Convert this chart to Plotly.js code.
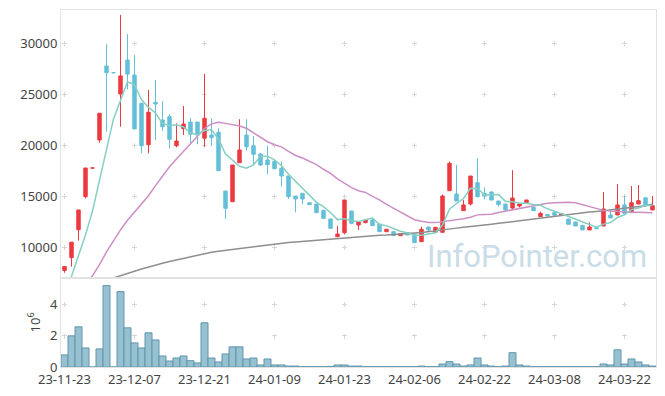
<!DOCTYPE html>
<html><head><meta charset="utf-8">
<script src="https://cdn.plot.ly/plotly-3.0.1.min.js"></script>
<style>html,body{margin:0;padding:0;background:#fff}#chart{width:665px;height:396px}</style>
</head><body><div id="chart"></div>
<script>
const dates = ['23-11-23','23-11-24','23-11-27','23-11-28','23-11-29','23-11-30','23-12-01','23-12-04','23-12-05','23-12-06',
'23-12-07','23-12-08','23-12-11','23-12-12','23-12-13','23-12-14','23-12-15','23-12-18','23-12-19','23-12-20',
'23-12-21','23-12-22','23-12-26','23-12-27','23-12-28','24-01-02','24-01-03','24-01-04','24-01-05','24-01-08',
'24-01-09','24-01-10','24-01-11','24-01-12','24-01-15','24-01-16','24-01-17','24-01-18','24-01-19','24-01-22',
'24-01-23','24-01-24','24-01-25','24-01-26','24-01-29','24-01-30','24-01-31','24-02-01','24-02-02','24-02-05',
'24-02-06','24-02-07','24-02-08','24-02-13','24-02-14','24-02-15','24-02-16','24-02-19','24-02-20','24-02-21',
'24-02-22','24-02-23','24-02-26','24-02-27','24-02-28','24-02-29','24-03-04','24-03-05','24-03-06','24-03-07',
'24-03-08','24-03-11','24-03-12','24-03-13','24-03-14','24-03-15','24-03-18','24-03-19','24-03-20','24-03-21',
'24-03-22','24-03-25','24-03-26','24-03-27','24-03-28'];

const openP = [7720,8990,11730,14960,17775,20520,27775,27120,25030,28360,
26890,24120,20060,24215,22480,22810,19960,21630,22285,22285,
20690,21010,21275,15520,14470,18290,21010,19960,19150,18560,
18430,17745,16990,15030,15290,14370,14245,13600,12775,11040,
11430,13560,12185,12420,12680,12285,11530,11530,11140,11430,
11270,10550,11990,11470,11470,15550,15225,13590,14245,16330,
15290,15420,14540,14245,13850,14050,14370,13920,13000,13230,
13400,13140,12775,12480,12150,11700,11925,12090,13170,13170,
14150,13400,14245,14860,13660];

const highP = [8150,10500,13660,17775,17775,23140,29900,27120,32775,30910,
28850,24120,25420,26400,24340,23040,22160,23850,22650,22285,
26990,22650,21670,15520,18070,22560,22560,20910,19250,19960,
18560,18400,16990,15030,15290,14400,14245,13700,12775,12085,
14640,13560,12515,12680,12780,12285,11770,11530,11340,11430,
11370,12020,11990,11960,15190,18400,18070,14640,16990,18720,
15880,15500,14540,14245,17560,14340,14640,13920,13490,13230,
13400,13300,12775,12480,12150,12450,11925,15420,13660,16200,
15060,16010,16110,14860,15030];

const lowP = [7500,8100,10650,14800,17775,20250,21330,27120,21820,25490,
21600,19215,19215,20520,21400,19710,19800,21010,20200,20100,
19860,19930,17510,12775,14470,18290,19470,18170,18000,17150,
17650,15940,14735,13430,14245,14180,13350,12840,11860,11040,
11270,12250,11700,12350,12120,11530,11530,11140,11140,11210,
10450,10550,11470,11470,11470,15550,14540,13590,14100,14900,
14700,14600,14000,13550,13730,13900,14370,13590,13000,13070,
13140,13140,12250,12090,11700,11700,11830,12090,12870,13170,
13330,13400,14245,14000,13660];

const closeP = [8110,10500,13660,17775,17775,23140,27120,27120,26800,26990,
21600,19960,23235,24050,21820,20590,20420,22090,21080,21010,
22650,20745,17510,13820,18070,19540,19860,19120,18070,18100,
17710,16990,14960,14735,14735,14180,13400,12840,11860,11300,
14640,12350,12515,12680,12120,11530,11770,11140,11340,11210,
10450,11770,11700,11960,15030,18230,14540,14150,16990,14960,
15060,14640,14180,13660,14830,14245,14640,13590,13330,13070,
13140,13300,12250,12090,11700,11990,11830,13760,12870,14150,
13330,14370,14570,14150,14080];

const ma5 = [5100,7080,9050,11230,13564,16570,19894,22586,24391,26234,
25926,24494,23717,23167,22133,21931,22023,21794,21200,21038,
21450,21515,20599,19147,18559,17937,17760,18082,18932,18938,
18572,17998,17166,16499,15826,15120,14402,13978,13403,12716,
12808,12598,12533,12697,12861,12239,12123,11848,11580,11398,
11182,11182,11294,11418,12182,13738,14292,14782,15788,15774,
15140,15160,15166,14500,14474,14311,14311,14193,14127,13775,
13554,13286,13018,12770,12496,12266,11972,12274,12430,12920,
13188,13696,13858,14114,14100];

const ma20 = [4900,5400,5900,6450,7200,8300,9550,10650,11700,12650,
13450,14200,15050,16050,17000,17900,18650,19400,20200,20950,
21650,22100,22250,22150,22050,21900,21670,21250,20800,20350,
20050,19850,19400,19000,18750,18400,18100,17650,17250,16700,
16250,15850,15550,15380,15000,14650,14200,13820,13400,13000,
12700,12550,12440,12420,12510,12620,12745,12800,12950,13180,
13210,13240,13420,13550,13680,13800,13950,14100,14230,14330,
14370,14400,14410,14360,14170,13950,13755,13620,13560,13500,
13450,13430,13430,13420,13390];

const ma60 = [5850,6000,6150,6300,6450,6650,6830,7000,7200,7380,
7650,7870,8080,8260,8430,8600,8760,8920,9100,9260,
9400,9520,9620,9710,9790,9870,9950,10050,10140,10230,
10310,10400,10470,10530,10590,10640,10690,10750,10800,10880,
10950,10990,11040,11080,11130,11180,11210,11240,11280,11320,
11400,11460,11530,11620,11700,11780,11880,11970,12030,12110,
12190,12270,12350,12440,12530,12610,12700,12780,12870,12960,
13040,13120,13210,13290,13370,13450,13520,13590,13660,13740,
13810,13890,13980,14080,14210];

const volume = [0.77,1.98,2.55,1.21,0,1.15,5.17,0,4.79,2.49,
1.53,1.21,2.17,1.72,0.70,0.38,0.57,0.70,0.40,0.26,
2.81,0.57,0.32,0.83,1.28,1.28,0.51,0.57,0.13,0.51,
0.13,0.13,0.06,0.06,0.02,0.02,0.02,0.02,0.04,0.13,
0.13,0.06,0.06,0.02,0.02,0.02,0.02,0.02,0.02,0.02,
0.02,0.06,0.02,0.02,0.19,0.34,0.19,0.06,0.13,0.57,
0.13,0.06,0.02,0.06,0.91,0.13,0.06,0.02,0.02,0.02,
0.02,0.02,0.02,0.02,0.02,0.02,0.02,0.19,0.13,1.09,
0.19,0.51,0.32,0.13,0.06];

const tickLabels = ['23-11-23','23-12-07','23-12-21','24-01-09','24-01-23','24-02-06','24-02-22','24-03-08','24-03-22'];

const UP = '#ec3a40', DOWN = '#64bfd8';
const gridC = '#d6d6d6', lineC = '#e2e2e2';
const fontF = {family: 'Noto Sans, Open Sans, sans-serif', size: 13, color: '#444'};

const traces = [
  {type: 'candlestick', x: dates, open: openP, high: highP, low: lowP, close: closeP,
   xaxis: 'x', yaxis: 'y', whiskerwidth: 0, hoverinfo: 'skip',
   increasing: {line: {color: UP, width: 1}, fillcolor: UP},
   decreasing: {line: {color: DOWN, width: 1}, fillcolor: DOWN}},
  {type: 'scatter', mode: 'lines', x: dates, y: ma60, xaxis: 'x', yaxis: 'y', line: {color: '#8e8e8e', width: 1.5}, hoverinfo: 'skip'},
  {type: 'scatter', mode: 'lines', x: dates, y: ma20, xaxis: 'x', yaxis: 'y', line: {color: '#cc8fc4', width: 1.5}, hoverinfo: 'skip'},
  {type: 'scatter', mode: 'lines', x: dates, y: ma5, xaxis: 'x', yaxis: 'y', line: {color: '#86cfc3', width: 1.5}, hoverinfo: 'skip'},
  {type: 'bar', x: dates, y: volume, xaxis: 'x2', yaxis: 'y2',
   marker: {color: '#97c1d1', line: {color: '#6196ad', width: 1}}, hoverinfo: 'skip'}
];

const xCommon = {type: 'category', range: [-0.5, 84.5], tickmode: 'array', tickvals: tickLabels, ticktext: tickLabels,
  showgrid: true, gridcolor: gridC, gridwidth: 1, showline: true, mirror: true, linecolor: lineC, linewidth: 1,
  ticks: '', zeroline: false, tickfont: fontF, fixedrange: true};

const layout = {
  width: 665, height: 396,
  margin: {l: 61, r: 9, t: 10, b: 29},
  paper_bgcolor: '#fff', plot_bgcolor: '#fff',
  showlegend: false, bargap: 0, font: fontF,
  xaxis: Object.assign({}, xCommon, {anchor: 'y', showticklabels: false, rangeslider: {visible: false},
     griddash: '0px,31px,5px,15px'}),
  xaxis2: Object.assign({}, xCommon, {anchor: 'y2', matches: 'x', showticklabels: true,
     griddash: '0px,24px,5px,3px'}),
  yaxis: {domain: [0.25, 1], range: [7015, 33265], dtick: 5000, tick0: 0, tickformat: 'd',
     showgrid: true, gridcolor: gridC, griddash: '0px,1px,5px,64px', showline: true, mirror: true,
     linecolor: lineC, ticks: '', zeroline: false, tickfont: fontF, anchor: 'x', fixedrange: true},
  yaxis2: {domain: [0, 0.25], range: [0, 5.67], dtick: 2, tick0: 0,
     showgrid: true, gridcolor: gridC, griddash: '0px,1px,5px,64px', showline: true, mirror: true,
     linecolor: lineC, ticks: '', zeroline: false, tickfont: fontF, anchor: 'x2', fixedrange: true,
     title: {text: '10<sup>6</sup>', font: fontF, standoff: 6}},
  annotations: [{text: 'InfoPointer.com', xref: 'paper', yref: 'paper', x: 0.988, y: 0.252,
     xanchor: 'right', yanchor: 'bottom', showarrow: false,
     font: {family: 'Roboto, Noto Sans, sans-serif', size: 31, color: '#c9dce7'}}]
};

Plotly.newPlot('chart', traces, layout, {staticPlot: true, displayModeBar: false});
</script></body></html>
